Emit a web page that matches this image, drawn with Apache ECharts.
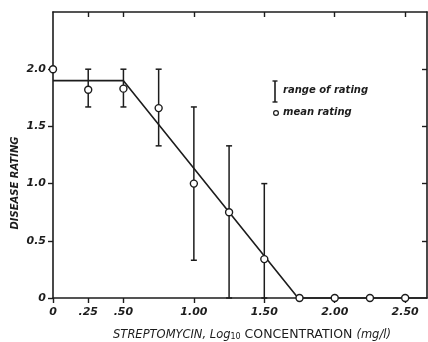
<!DOCTYPE html>
<html>
<head>
<meta charset="utf-8">
<script src="https://cdn.jsdelivr.net/npm/echarts@6/dist/echarts.min.js"></script>
<style>
html,body{margin:0;padding:0;background:#fff;}
#chart{width:428px;height:342px;}
</style>
</head>
<body>
<div id="chart"></div>
<script>
// ---- data ----
const concentration = [0, 0.25, 0.5, 0.75, 1.0, 1.25, 1.5, 1.75, 2.0, 2.25, 2.5];
const meanRating    = [2.0, 1.82, 1.83, 1.66, 1.0, 0.75, 0.34, 0, 0, 0, 0];
const rangeX        = [0.25, 0.5, 0.75, 1.0, 1.25, 1.5];
const rangeLow      = [1.67, 1.67, 1.33, 0.33, 0, 0];
const rangeHigh     = [2.0, 2.0, 2.0, 1.67, 1.33, 1.0];
const fitX          = [0, 0.5, 1.74, 2.655];
const fitY          = [1.9, 1.9, 0, 0];
const xTickValues   = [0, 0.25, 0.5, 1.0, 1.5, 2.0, 2.5];
const xTickLabels   = ['0', '.25', '.50', '1.00', '1.50', '2.00', '2.50'];
const yTickValues   = [0, 0.5, 1.0, 1.5, 2.0];
const yTickLabels   = ['0', '0.5', '1.0', '1.5', '2.0'];

const INK = '#1c1c1c';
const FONT = 'DejaVu Sans';

const chart = echarts.init(document.getElementById('chart'));

const meanData = concentration.map((x, i) => [x, meanRating[i]]);
const rangeData = rangeX.map((x, i) => [x, rangeLow[i], rangeHigh[i]]);
const fitData = fitX.map((x, i) => [x, fitY[i]]);

const xLabelMap = {};
xTickValues.forEach((v, i) => { xLabelMap[v.toFixed(2)] = xTickLabels[i]; });
const yLabelMap = {};
yTickValues.forEach((v, i) => { yLabelMap[v.toFixed(1)] = yTickLabels[i]; });

const axisLine = { show: true, onZero: false, lineStyle: { color: INK, width: 1.6 } };

chart.setOption({
  animation: false,
  backgroundColor: '#fff',
  grid: { left: 53, right: 1, top: 12, bottom: 44, outerBoundsMode: 'none', containLabel: false },
  xAxis: [
    {
      type: 'value', position: 'bottom', min: 0, max: 2.655,
      axisLine: axisLine,
      splitLine: { show: false },
      axisTick: { show: true, inside: false, length: 5, customValues: xTickValues, lineStyle: { color: INK, width: 1.4 } },
      axisLabel: {
        customValues: xTickValues, margin: 9,
        color: INK, fontFamily: FONT, fontStyle: 'italic', fontWeight: 'bold', fontSize: 11,
        formatter: v => xLabelMap[v.toFixed(2)] ?? ''
      },
      name: '{it|STREPTOMYCIN, Log}{sub|10}{up| CONCENTRATION }{it|(mg/l)}',
      nameLocation: 'middle', nameGap: 30,
      nameTextStyle: {
        padding: [0, 0, 0, 24],
        rich: {
          it: { fontFamily: FONT, fontStyle: 'italic', fontSize: 11.5, color: INK, verticalAlign: 'bottom' },
          up: { fontFamily: FONT, fontSize: 12.5, color: INK, verticalAlign: 'bottom' },
          sub: { fontFamily: FONT, fontSize: 8, color: INK, padding: [5, 0, 0, 0], verticalAlign: 'bottom' }
        }
      }
    },
    {
      type: 'value', position: 'top', min: 0, max: 2.655,
      axisLine: axisLine,
      splitLine: { show: false },
      axisTick: { show: true, inside: true, length: 5, customValues: [0.25, 0.5, 1.0, 1.5, 2.0, 2.5], lineStyle: { color: INK, width: 1.4 } },
      axisLabel: { show: false }
    }
  ],
  yAxis: [
    {
      type: 'value', position: 'left', min: 0, max: 2.5, interval: 0.5,
      axisLine: axisLine,
      splitLine: { show: false },
      axisTick: { show: true, inside: false, length: 5, customValues: yTickValues, lineStyle: { color: INK, width: 1.4 } },
      axisLabel: {
        customValues: yTickValues, margin: 7,
        color: INK, fontFamily: FONT, fontStyle: 'italic', fontWeight: 'bold', fontSize: 11,
        formatter: v => yLabelMap[v.toFixed(1)] ?? ''
      }
    },
    {
      type: 'value', position: 'right', min: 0, max: 2.5, interval: 0.5,
      axisLine: axisLine,
      splitLine: { show: false },
      axisTick: { show: true, inside: true, length: 5, customValues: [0.5, 1.0, 1.5, 2.0], lineStyle: { color: INK, width: 1.4 } },
      axisLabel: { show: false }
    }
  ],
  series: [
    {
      type: 'line', data: fitData, showSymbol: false, symbol: 'none',
      lineStyle: { color: INK, width: 1.6 }, z: 2, clip: false
    },
    {
      type: 'custom', data: rangeData, z: 3, clip: false,
      renderItem: (params, api) => {
        const x = api.value(0);
        const lo = api.coord([x, api.value(1)]);
        const hi = api.coord([x, api.value(2)]);
        const w = 3;
        const st = { stroke: INK, lineWidth: 1.5 };
        return {
          type: 'group',
          children: [
            { type: 'line', shape: { x1: lo[0], y1: lo[1], x2: hi[0], y2: hi[1] }, style: st },
            { type: 'line', shape: { x1: hi[0] - w, y1: hi[1], x2: hi[0] + w, y2: hi[1] }, style: st },
            { type: 'line', shape: { x1: lo[0] - w, y1: lo[1], x2: lo[0] + w, y2: lo[1] }, style: st }
          ]
        };
      }
    },
    {
      type: 'scatter', data: meanData, symbol: 'circle', symbolSize: 7, z: 5, clip: false,
      itemStyle: { color: '#fff', borderColor: INK, borderWidth: 1.4, opacity: 1 }
    }
  ],
  graphic: [
    { type: 'text', x: 15, y: 183, rotation: Math.PI / 2,
      style: { text: 'DISEASE RATING', fill: INK, font: 'italic bold 10px "DejaVu Sans"', align: 'center', verticalAlign: 'middle' } },
    { type: 'line', shape: { x1: 275, y1: 81, x2: 275, y2: 102 }, style: { stroke: INK, lineWidth: 1.6 } },
    { type: 'line', shape: { x1: 272.5, y1: 81, x2: 277.5, y2: 81 }, style: { stroke: INK, lineWidth: 1.4 } },
    { type: 'line', shape: { x1: 272.5, y1: 102, x2: 277.5, y2: 102 }, style: { stroke: INK, lineWidth: 1.4 } },
    { type: 'text', left: 283, top: 85, style: { text: 'range of rating', fill: INK, font: 'italic bold 10px "DejaVu Sans"' } },
    { type: 'circle', shape: { cx: 276, cy: 113, r: 2.4 }, style: { fill: '#fff', stroke: INK, lineWidth: 1.2 } },
    { type: 'text', left: 283, top: 107, style: { text: 'mean rating', fill: INK, font: 'italic bold 10px "DejaVu Sans"' } }
  ]
});
</script>
</body>
</html>
